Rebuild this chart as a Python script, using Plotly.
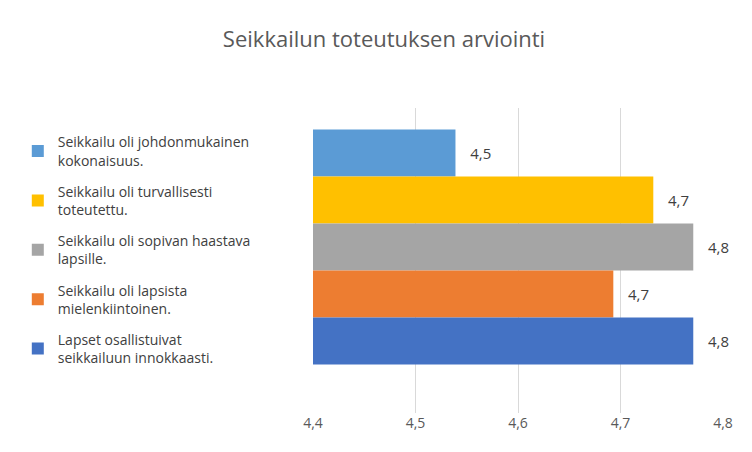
import plotly.graph_objects as go

series = ["Seikkailu oli johdonmukainen<br>kokonaisuus.",
          "Seikkailu oli turvallisesti<br>toteutettu.",
          "Seikkailu oli sopivan haastava<br>lapsille.",
          "Seikkailu oli lapsista<br>mielenkiintoinen.",
          "Lapset osallistuivat<br>seikkailuun innokkaasti."]
values = [4.539, 4.732, 4.771, 4.693, 4.771]
colors = ["#5B9BD5", "#FFC000", "#A5A5A5", "#ED7D31", "#4472C4"]
positions = [4, 3, 2, 1, 0]

fig = go.Figure()
for name, v, c, p in zip(series, values, colors, positions):
    fig.add_trace(go.Bar(
        x=[v], y=[p], base=0, orientation="h", name=name, legendgroup=name,
        marker=dict(color=c, line=dict(width=0)), width=1.0,
        text=[v], texttemplate="   %{x:.1f}", textposition="outside",
        textfont=dict(size=15, color="#404040"), cliponaxis=False,
    ))

fig.update_layout(
    width=752, height=452,
    separators=", ",
    font=dict(family="Open Sans, Liberation Sans, sans-serif", color="#595959"),
    title=dict(text="Seikkailun toteutuksen arviointi", x=0.5, xanchor="center",
               y=0.93, yanchor="middle", font=dict(size=22, color="#595959")),
    plot_bgcolor="white", paper_bgcolor="white",
    margin=dict(l=305, r=37, t=100, b=47, autoexpand=False),
    showlegend=True,
    legend=dict(x=-0.72, xanchor="left", y=0.94, yanchor="top",
                traceorder="grouped", tracegroupgap=10,
                font=dict(size=14, color="#404040"), itemwidth=30),
    xaxis=dict(range=[4.4, 4.8], dtick=0.1, tickformat=".1f",
               showgrid=True, gridcolor="#D9D9D9", zeroline=False,
               tickfont=dict(size=14, color="#595959"), ticks="", showline=False),
    yaxis=dict(range=[-1.53, 4.96], visible=False),
)

fig.write_html("out.html")
